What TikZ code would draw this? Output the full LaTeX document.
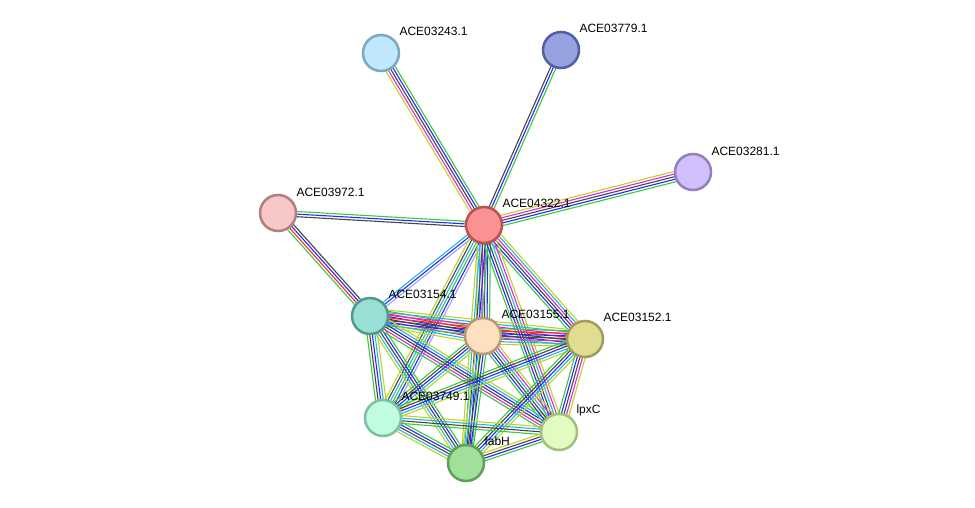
\documentclass[tikz,border=0pt]{standalone}
\usepackage{fontspec}
\setmainfont{Liberation Sans}
\usetikzlibrary{calc}
\definecolor{eG}{RGB}{60,200,60}
\definecolor{eR}{RGB}{250,40,40}
\definecolor{eB}{RGB}{40,40,250}
\definecolor{eK}{RGB}{70,70,70}
\definecolor{eM}{RGB}{220,40,220}
\definecolor{eC}{RGB}{40,180,220}
\definecolor{eY}{RGB}{190,210,40}
\definecolor{eL}{RGB}{160,160,250}
\newcommand\medge[4]{%
  \foreach \cc [count=\ii] in {#4} {%
    \pgfmathsetmacro\offs{((#3+1)/2-\ii)*2.6}%
    \draw[\cc] ($(#1.center)!\offs pt!90:(#2.center)$) -- ($(#2.center)!\offs pt!-90:(#1.center)$);
  }}
\tikzset{
  prot/.style={circle,minimum size=36pt,inner sep=0pt,line width=2.5pt},
  lbl/.style={anchor=west,inner sep=0pt,font=\fontsize{12}{14}\selectfont,text=black},
  every path/.append style={line width=1.1pt}
}
\begin{document}
\begin{tikzpicture}[x=1pt,y=-1pt]
\useasboundingbox[fill=white] (0,0) rectangle (975,508);
% node positions
\path
  (484,225) node[prot] (a) {}
  (381,53) node[prot] (b) {}
  (561,50) node[prot] (c) {}
  (693,172) node[prot] (d) {}
  (278,213) node[prot] (e) {}
  (370,316) node[prot] (f) {}
  (483,336) node[prot] (g) {}
  (585,339) node[prot] (h) {}
  (383,418) node[prot] (i) {}
  (466,463) node[prot] (j) {}
  (559,432) node[prot] (k) {};
% edges
\medge{a}{b}{5}{eY,eM,eK,eB,eG}
\medge{a}{c}{3}{eK,eB,eG}
\medge{a}{d}{5}{eY,eM,eK,eB,eG}
\medge{a}{e}{3}{eK,eB,eG}
\medge{e}{f}{4}{eK,eB,eR,eG}
\medge{a}{f}{3}{eL,eB,eC}
\medge{a}{g}{6}{eG,eB,eK,eM,eC,eY}
\medge{a}{h}{6}{eY,eC,eM,eK,eB,eG}
\medge{a}{i}{6}{eL,eB,eG,eC,eK,eY}
\medge{a}{j}{5}{eG,eB,eK,eC,eY}
\medge{a}{k}{6}{eY,eM,eC,eK,eB,eG}
\medge{f}{g}{7}{eG,eR,eB,eK,eM,eC,eY}
\medge{f}{h}{7}{eY,eC,eM,eR,eK,eB,eG}
\medge{f}{i}{5}{eY,eC,eB,eK,eG}
\medge{f}{j}{5}{eG,eB,eK,eC,eY}
\medge{f}{k}{6}{eY,eC,eB,eK,eM,eG}
\medge{g}{h}{7}{eG,eR,eB,eK,eM,eC,eY}
\medge{g}{i}{5}{eY,eC,eB,eK,eG}
\medge{g}{j}{5}{eG,eB,eK,eC,eY}
\medge{g}{k}{6}{eY,eM,eC,eK,eB,eG}
\medge{h}{i}{5}{eY,eC,eB,eK,eG}
\medge{h}{j}{5}{eY,eC,eB,eK,eG}
\medge{h}{k}{5}{eY,eM,eK,eB,eG}
\medge{i}{j}{5}{eG,eB,eK,eC,eY}
\medge{i}{k}{4}{eY,eC,eK,eG}
\medge{j}{k}{4}{eY,eK,eB,eG}
% node discs
\draw[line width=2.5pt,fill={rgb,255:red,250;green,146;blue,146},draw={rgb,255:red,192;green,80;blue,80}] (a) circle (18);
\draw[line width=2.5pt,fill={rgb,255:red,192;green,232;blue,252},draw={rgb,255:red,124;green,168;blue,192}] (b) circle (18);
\draw[line width=2.5pt,fill={rgb,255:red,152;green,162;blue,224},draw={rgb,255:red,80;green,96;blue,160}] (c) circle (18);
\draw[line width=2.5pt,fill={rgb,255:red,210;green,192;blue,252},draw={rgb,255:red,146;green,128;blue,196}] (d) circle (18);
\draw[line width=2.5pt,fill={rgb,255:red,248;green,200;blue,200},draw={rgb,255:red,176;green,128;blue,128}] (e) circle (18);
\draw[line width=2.5pt,fill={rgb,255:red,152;green,224;blue,214},draw={rgb,255:red,80;green,152;blue,144}] (f) circle (18);
\draw[line width=2.5pt,fill={rgb,255:red,253;green,224;blue,192},draw={rgb,255:red,184;green,152;blue,122}] (g) circle (18);
\draw[line width=2.5pt,fill={rgb,255:red,224;green,220;blue,144},draw={rgb,255:red,160;green,156;blue,96}] (h) circle (18);
\draw[line width=2.5pt,fill={rgb,255:red,192;green,252;blue,224},draw={rgb,255:red,128;green,192;blue,160}] (i) circle (18);
\draw[line width=2.5pt,fill={rgb,255:red,160;green,224;blue,152},draw={rgb,255:red,96;green,160;blue,88}] (j) circle (18);
\draw[line width=2.5pt,fill={rgb,255:red,224;green,252;blue,192},draw={rgb,255:red,160;green,192;blue,128}] (k) circle (18);
% labels
\node[lbl] (la) at (502,203) {ACE04322.1};
\node[lbl] (lb) at (399,31) {ACE03243.1};
\node[lbl] (lc) at (579,28) {ACE03779.1};
\node[lbl] (ld) at (711,151) {ACE03281.1};
\node[lbl] (le) at (296,192) {ACE03972.1};
\node[lbl] (lf) at (388,294) {ACE03154.1};
\node[lbl] (lg) at (501,314) {ACE03155.1};
\node[lbl] (lh) at (603,317) {ACE03152.1};
\node[lbl] (li) at (401,396) {ACE03749.1};
\node[lbl] (lj) at (484,441) {fabH};
\node[lbl] (lk) at (576,410) {lpxC};
\end{tikzpicture}
\end{document}
